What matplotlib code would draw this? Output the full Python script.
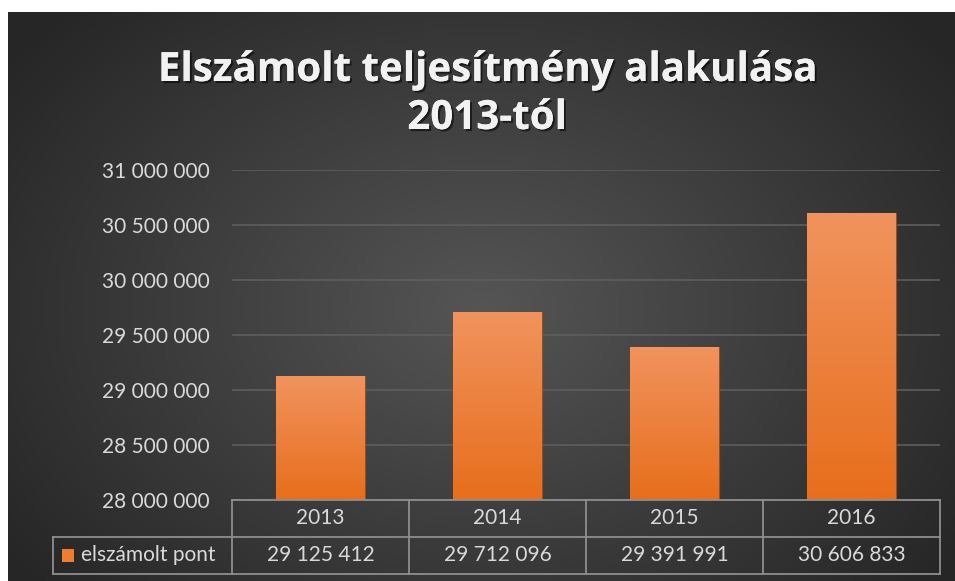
import numpy as np
import matplotlib
matplotlib.use("Agg")
import matplotlib.pyplot as plt
import matplotlib.patheffects as pe
from matplotlib.transforms import blended_transform_factory

# ---- data ----
years = ["2013", "2014", "2015", "2016"]
values = [29125412, 29712096, 29391991, 30606833]
series_name = "elszámolt pont"
yticks = [28000000, 28500000, 29000000, 29500000, 30000000, 30500000, 31000000]
title_lines = ["Elszámolt teljesítmény alakulása", "2013-tól"]

def fmt(v):
    return f"{v:,}".replace(",", " ")

FONT = ["Lato", "DejaVu Sans"]
TFONT = ["Open Sans", "DejaVu Sans"]
W, H = 955, 581
fig = plt.figure(figsize=(W / 100, H / 100), dpi=100, facecolor="white")

# ---- background radial gradient ----
bg = fig.add_axes([8 / W, 0, (W - 8) / W, (H - 12) / H])
bg.set_axis_off()
ny, nx = 300, 500
yy, xx = np.mgrid[0:ny, 0:nx]
cx, cy = 0.50 * nx, 0.52 * ny
d = np.sqrt(((xx - cx) / (0.62 * nx)) ** 2 + ((yy - cy) / (0.75 * ny)) ** 2)
d = np.clip(d, 0, 1)
inner = np.array([0x55, 0x55, 0x55]) / 255
outer = np.array([0x26, 0x26, 0x26]) / 255
img = inner[None, None, :] * (1 - d[..., None]) + outer[None, None, :] * d[..., None]
bg.imshow(img, aspect="auto", extent=[0, 1, 0, 1], origin="upper")
bg.set_xlim(0, 1)
bg.set_ylim(0, 1)

# ---- main axes ----
ax = fig.add_axes([232 / W, (H - 500) / H, (940 - 232) / W, 330 / H])
ax.set_facecolor("none")
x = np.arange(len(years))
ax.set_ylim(yticks[0], yticks[-1])
ax.set_yticks(yticks)
ax.set_yticklabels([fmt(t) for t in yticks])
ax.tick_params(axis="y", length=0, pad=16, labelsize=15, labelcolor="#d9d9d9")
ax.tick_params(axis="x", length=0, labelbottom=False)
for lab in ax.get_yticklabels():
    lab.set_family(FONT)
for s in ax.spines.values():
    s.set_visible(False)
ax.yaxis.grid(True, color="#5e5e5e", linewidth=1.2)
ax.set_axisbelow(True)

bw = 0.5
top_c = np.array([0xf1, 0x93, 0x5e]) / 255
bot_c = np.array([0xe7, 0x6e, 0x1c]) / 255
grad = np.linspace(0, 1, 256)[:, None, None]
gimg = top_c[None, None, :] * (1 - grad) + bot_c[None, None, :] * grad
bars = ax.bar(x, values, width=bw, color="#ed7d31", edgecolor="#9a4e1c",
              linewidth=0.8, zorder=2)
for b, v in zip(bars, values):
    im = ax.imshow(gimg, aspect="auto", origin="upper", zorder=2.1,
                   extent=[b.get_x(), b.get_x() + bw, yticks[0], v])
    im.set_clip_path(b)
ax.set_xlim(-0.5, len(years) - 0.5)
ax.set_ylim(yticks[0], yticks[-1])

# ---- data table ----
tr = blended_transform_factory(ax.transData, ax.transAxes)
ah = 330.0
def ay(py):
    return (500 - py) / ah
lc = "#8e8e8e"
lw = 1.3
ykw = dict(transform=tr, color=lc, linewidth=lw, clip_on=False, zorder=3)
y_top, y_mid, y_bot = ay(500), ay(536.7), ay(574)
ax.plot([-0.5, len(years) - 0.5], [y_top, y_top], **ykw)
ax.plot([-0.5, len(years) - 0.5], [y_bot, y_bot], **ykw)
trf = blended_transform_factory(fig.transFigure, ax.transAxes)
left_leg = 53 / W
x0_fig = 232 / W
ax.plot([left_leg, x0_fig + (940 - 232) / W], [y_mid, y_mid], transform=trf,
        color=lc, linewidth=lw, clip_on=False, zorder=3)
ax.plot([left_leg, x0_fig], [y_bot, y_bot], transform=trf,
        color=lc, linewidth=lw, clip_on=False, zorder=3)
ax.plot([left_leg, left_leg], [y_mid, y_bot], transform=trf,
        color=lc, linewidth=lw, clip_on=False, zorder=3)
for k in range(len(years) + 1):
    xv = k - 0.5
    ax.plot([xv, xv], [y_top, y_bot], **ykw)

tkw = dict(transform=tr, color="#d9d9d9", fontsize=15, ha="center",
           va="center", family=FONT, clip_on=False)
for xi, yr, v in zip(x, years, values):
    ax.text(xi, (y_top + y_mid) / 2, yr, **tkw)
    ax.text(xi, (y_mid + y_bot) / 2, fmt(v), **tkw)

ym = (y_mid + y_bot) / 2
ax.text(81 / W, ym, series_name, transform=trf, color="#d9d9d9", fontsize=15,
        ha="left", va="center", family=FONT)
fig.patches.append(plt.Rectangle((62 / W, (H - 562) / H), 12 / W, 13 / H,
                                 transform=fig.transFigure, facecolor="#ed7d31",
                                 edgecolor="none", zorder=5))

# ---- title ----
shadow = [pe.withSimplePatchShadow(offset=(1.5, -1.5), shadow_rgbFace="black", alpha=0.55),
          pe.Normal()]
for line, by in zip(title_lines, [81, 129]):
    fig.text(487 / W, 1 - by / H, line, ha="center", va="baseline",
             color="#f2f2f2", fontsize=29, fontweight="bold",
             family=TFONT, path_effects=shadow)

fig.savefig("out.png", dpi=100, facecolor="white")
